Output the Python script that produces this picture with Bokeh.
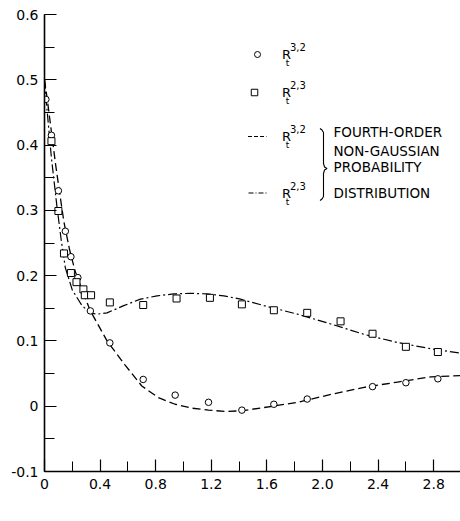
from bokeh.plotting import figure
from bokeh.models import Range1d, FixedTicker, Label, CustomJSTickFormatter
from bokeh.embed import file_html
from bokeh.resources import INLINE

# ---- data ----
circ_x = [0.01, 0.05, 0.10, 0.15, 0.19, 0.24, 0.33, 0.47, 0.71, 0.94, 1.18, 1.42, 1.65, 1.89, 2.36, 2.60, 2.83]
circ_y = [0.47, 0.415, 0.33, 0.268, 0.229, 0.197, 0.146, 0.097, 0.041, 0.017, 0.006, -0.006, 0.003, 0.011, 0.030, 0.036, 0.042]

sq_x = [0.05, 0.10, 0.14, 0.19, 0.23, 0.28, 0.29, 0.335, 0.47, 0.71, 0.95, 1.19, 1.42, 1.65, 1.89, 2.13, 2.36, 2.60, 2.83]
sq_y = [0.406, 0.299, 0.234, 0.204, 0.19, 0.179, 0.17, 0.170, 0.159, 0.155, 0.165, 0.166, 0.156, 0.147, 0.143, 0.130, 0.111, 0.091, 0.083]

dash_x = [0, 0.02, 0.05, 0.08, 0.11, 0.14, 0.18, 0.22, 0.27, 0.33, 0.45, 0.58, 0.70, 0.82, 0.94, 1.06, 1.18, 1.30, 1.42, 1.58, 1.82, 2.06, 2.30, 2.54, 2.78, 3.0]
dash_y = [0.5, 0.47, 0.42, 0.37, 0.325, 0.282, 0.24, 0.207, 0.178, 0.146, 0.10, 0.063, 0.031, 0.013, 0.003, -0.003, -0.006, -0.008, -0.007, -0.002, 0.006, 0.018, 0.029, 0.037, 0.045, 0.047]

dd_x = [0, 0.02, 0.05, 0.09, 0.12, 0.15, 0.2, 0.27, 0.33, 0.38, 0.45, 0.57, 0.69, 0.81, 0.93, 1.05, 1.17, 1.29, 1.41, 1.58, 1.82, 2.06, 2.30, 2.54, 2.78, 3.0]
dd_y = [0.5, 0.45, 0.38, 0.305, 0.255, 0.212, 0.178, 0.154, 0.143, 0.141, 0.143, 0.154, 0.164, 0.169, 0.172, 0.173, 0.172, 0.169, 0.164, 0.154, 0.141, 0.126, 0.110, 0.0975, 0.088, 0.081]

x_ticks = [0, 0.4, 0.8, 1.2, 1.6, 2.0, 2.4, 2.8]
x_tick_labels = ["0", "0.4", "0.8", "1.2", "1.6", "2.0", "2.4", "2.8"]
y_ticks = [-0.1, 0, 0.1, 0.2, 0.3, 0.4, 0.5, 0.6]
y_tick_labels = ["-0.1", "0", "0.1", "0.2", "0.3", "0.4", "0.5", "0.6"]

FONT = "DejaVu Sans"

W, H = 460, 521
LEFT, TOP, BOTTOM = 44, 14, 50
X0, X1 = 0.0, 416 / 139.0
Y0, Y1 = -0.1, 0.6

p = figure(width=W, height=H, output_backend="svg", toolbar_location=None,
           x_range=Range1d(X0, X1), y_range=Range1d(Y0, Y1),
           min_border_left=LEFT, min_border_right=0, min_border_top=TOP, min_border_bottom=BOTTOM,
           x_axis_location="below", y_axis_location="left")
p.outline_line_color = None
p.grid.visible = False
p.background_fill_color = "white"
p.border_fill_color = "white"

FMT_CODE = """
for (let i = 0; i < vals.length; i++) {
    if (Math.abs(vals[i] - tick) < 1e-9) { return labs[i]; }
}
return "";
"""

for ax, ticks, labels, minors in ((p.xaxis[0], x_ticks, x_tick_labels,
                                   [round(0.2 * i, 2) for i in range(0, 16)]),
                                  (p.yaxis[0], y_ticks, y_tick_labels,
                                   [round(-0.1 + 0.05 * i, 2) for i in range(0, 15)])):
    ax.ticker = FixedTicker(ticks=[float(t) for t in ticks], minor_ticks=minors)
    ax.formatter = CustomJSTickFormatter(args=dict(vals=[float(t) for t in ticks], labs=labels),
                                         code=FMT_CODE)
    ax.axis_line_color = "black"
    ax.axis_line_width = 1.6
    ax.major_tick_line_color = "black"
    ax.minor_tick_line_color = "black"
    ax.major_tick_line_width = 1.2
    ax.minor_tick_line_width = 1.0
    ax.major_tick_in = 12
    ax.major_tick_out = 0
    ax.minor_tick_in = 10
    ax.minor_tick_out = 0
    ax.major_label_text_font = FONT
    ax.major_label_text_font_size = "14px"
    ax.major_label_text_color = "black"
p.xaxis.major_label_standoff = 7
p.yaxis.major_label_standoff = 6

# curves
p.line(dash_x, dash_y, line_color="black", line_width=1.3, line_dash="8 4")
p.line(dd_x, dd_y, line_color="black", line_width=1.2, line_dash="9 3 2 3")

# data points
p.scatter(circ_x, circ_y, marker="circle", size=6.5, fill_color="white",
          line_color="black", line_width=1)
p.scatter(sq_x, sq_y, marker="square", size=7, fill_color="white",
          line_color="black", line_width=1)

# ---- legend (drawn as annotations; positions converted from pixels) ----
def dx(px):
    return X0 + (px - LEFT) * (X1 - X0) / (W - LEFT)

def dy(py):
    return Y1 - (py - TOP) * (Y1 - Y0) / (H - TOP - BOTTOM)

def txt(px, py, s, size, align="left"):
    p.add_layout(Label(x=dx(px), y=dy(py), text=s, text_font=FONT,
                       text_font_size=size, text_align=align,
                       text_baseline="middle", text_color="black"))

legend_rows = [("circle", "3,2", 54), ("square", "2,3", 92), ("dash", "3,2", 136), ("dashdot", "2,3", 192.5)]
for kind, sup, yc in legend_rows:
    if kind == "circle":
        p.scatter([dx(257)], [dy(yc)], marker="circle", size=6, fill_color="white", line_color="black")
    elif kind == "square":
        p.scatter([dx(254)], [dy(yc)], marker="square", size=6.5, fill_color="white", line_color="black")
    elif kind == "dash":
        p.line([dx(247.5), dx(266)], [dy(yc), dy(yc)], line_color="black", line_width=1.2, line_dash="4 2")
    else:
        p.line([dx(248), dx(266)], [dy(yc), dy(yc)], line_color="black", line_width=1.2, line_dash="5 2 1 2")
    txt(281.5, yc, "R", "13px")
    txt(289.5, yc - 7.5, sup, "10px")
    txt(287, yc + 8.5, "t", "9px", align="center")

# brace
bx = [319.5, 321.5, 323, 323, 324, 326.5, 324, 323, 323, 321.5, 319.5]
by = [128, 129.5, 132, 163, 166.5, 168, 169.5, 173, 196, 198.5, 200]
p.line([dx(v) for v in bx], [dy(v) for v in by], line_color="black", line_width=1.1)

txt(333, 131.5, "FOURTH-ORDER", "13.5px")
txt(333, 150, "NON-GAUSSIAN", "13.5px")
txt(333, 166, "PROBABILITY", "13.5px")
txt(333, 192.5, "DISTRIBUTION", "13.5px")

# axis title as a fraction Uh / M
txt(251, 498.5, "Uh", "12px", align="center")
txt(251, 507, "\u2014", "13px", align="center")
txt(251, 514, "M", "11px", align="center")

open("out.html", "w").write(file_html(p, INLINE))
